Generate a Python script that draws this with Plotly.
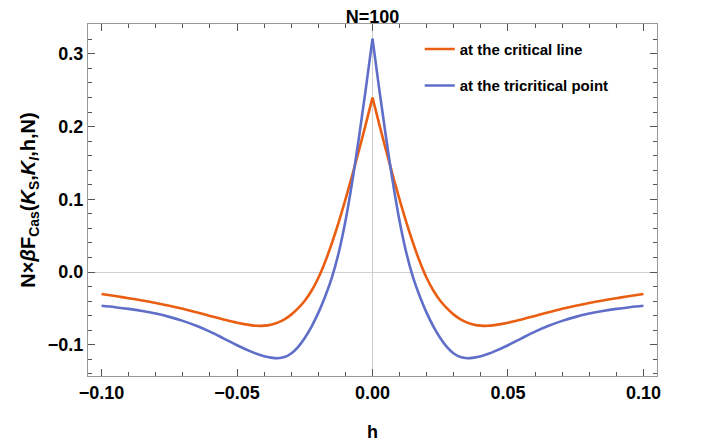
import plotly.graph_objects as go

# ---- data ----
h_left = [-0.100, -0.095, -0.090, -0.085, -0.080, -0.075, -0.070, -0.065, -0.060, -0.055,
          -0.050, -0.045, -0.0425, -0.040, -0.0375, -0.035, -0.0325, -0.030, -0.0275, -0.025,
          -0.0225, -0.020, -0.0175, -0.015, -0.0125, -0.010, -0.0075, -0.005, -0.0025, 0.0]
h_right = [0.0, 0.0025, 0.005, 0.0075, 0.010, 0.0125, 0.015, 0.0175, 0.020, 0.0225,
           0.025, 0.0275, 0.030, 0.0325, 0.035, 0.0375, 0.040, 0.0425, 0.045, 0.050,
           0.055, 0.060, 0.065, 0.070, 0.075, 0.080, 0.085, 0.090, 0.095, 0.100]

# at the critical line
crit_left = [-0.0303, -0.0331, -0.0360, -0.0391, -0.0425, -0.0463, -0.0506, -0.0554, -0.0604, -0.0653,
             -0.0697, -0.0730, -0.0740, -0.0738, -0.0724, -0.0696, -0.0651, -0.0586, -0.0501, -0.0396,
             -0.0258, -0.0083, 0.0137, 0.0395, 0.0682, 0.0995, 0.1325, 0.1673, 0.2030, 0.2400]
crit_right = [0.2400, 0.2030, 0.1673, 0.1325, 0.0995, 0.0682, 0.0395, 0.0137, -0.0083, -0.0258,
              -0.0396, -0.0501, -0.0586, -0.0651, -0.0696, -0.0724, -0.0738, -0.0740, -0.0730, -0.0697,
              -0.0653, -0.0604, -0.0554, -0.0506, -0.0463, -0.0425, -0.0391, -0.0360, -0.0331, -0.0303]

# at the tricritical point
tri_left = [-0.0465, -0.0484, -0.0507, -0.0536, -0.0572, -0.0617, -0.0672, -0.0740, -0.0820, -0.0912,
            -0.1007, -0.1092, -0.1128, -0.1157, -0.1177, -0.1186, -0.1170, -0.1120, -0.1032, -0.0907,
            -0.0750, -0.0562, -0.0340, -0.0077, 0.0261, 0.0698, 0.1236, 0.1849, 0.2511, 0.3210]
tri_right = [0.3210, 0.2511, 0.1849, 0.1236, 0.0698, 0.0261, -0.0077, -0.0340, -0.0562, -0.0750,
             -0.0907, -0.1032, -0.1120, -0.1170, -0.1186, -0.1177, -0.1157, -0.1128, -0.1092, -0.1007,
             -0.0912, -0.0820, -0.0740, -0.0672, -0.0617, -0.0572, -0.0536, -0.0507, -0.0484, -0.0465]

series_names = ["at the critical line", "at the tricritical point"]
x_ticks = [-0.10, -0.05, 0.00, 0.05, 0.10]
x_tick_labels = ["\u22120.10", "\u22120.05", "0.00", "0.05", "0.10"]
y_ticks = [-0.1, 0.0, 0.1, 0.2, 0.3]
y_tick_labels = ["\u22120.1", "0.0", "0.1", "0.2", "0.3"]

ORANGE = "#EA5E12"
BLUE = "#5F6EC8"

fig = go.Figure()
for name, color, halves in [
    (series_names[0], ORANGE, [(h_left, crit_left), (h_right, crit_right)]),
    (series_names[1], BLUE, [(h_left, tri_left), (h_right, tri_right)]),
]:
    for i, (hx, vy) in enumerate(halves):
        fig.add_trace(go.Scatter(
            x=hx, y=vy, mode="lines", name="<b>" + name + "</b>", legendgroup=name,
            showlegend=(i == 0),
            line=dict(color=color, width=2.6, shape="spline", smoothing=1.0),
        ))

font_family = "Liberation Sans, Arial, sans-serif"
axis_common = dict(
    showline=True, linecolor="#9a9a9a", linewidth=1.2, mirror="ticks",
    ticks="inside", ticklen=7, tickwidth=1, tickcolor="#555555",
    showgrid=False, zeroline=True, zerolinecolor="#cfcfcf", zerolinewidth=1,
    tickfont=dict(family=font_family, size=18, color="black"),
    automargin=False,
)

fig.update_xaxes(
    range=[-0.105, 0.105], tickvals=x_ticks,
    ticktext=["<b>" + t + "</b>" for t in x_tick_labels],
    minor=dict(ticks="inside", ticklen=4, dtick=0.01, tick0=0, tickcolor="#555555"),
    title=dict(text="<b>h</b>", font=dict(family=font_family, size=18, color="black"), standoff=23),
    **axis_common,
)
fig.update_yaxes(
    range=[-0.143, 0.341], tickvals=y_ticks,
    ticktext=["<b>" + t + "</b>" for t in y_tick_labels],
    minor=dict(ticks="inside", ticklen=4, dtick=0.02, tick0=0, tickcolor="#555555"),
    title=dict(
        text="<b>N\u00d7<i>\u03b2</i>F<sub>Cas</sub>(<i>K</i><sub>S</sub>,<i>K</i><sub><i>I</i></sub>,h,N)</b>",
        font=dict(family=font_family, size=20, color="black"), standoff=6),
    **axis_common,
)

# page body adds an 8px offset, so the figure is sized to fit the window
fig.update_layout(
    width=697, height=435,
    margin=dict(l=80, r=48, t=16, b=67),
    paper_bgcolor="white", plot_bgcolor="white",
    title=dict(text="<b>N=100</b>", x=0.5, xref="paper", xanchor="center",
               y=0.995, yref="container", yanchor="top", pad=dict(t=0),
               font=dict(family=font_family, size=18, color="black")),
    legend=dict(x=0.583, y=0.975, xanchor="left", yanchor="top",
                bgcolor="rgba(0,0,0,0)", tracegroupgap=14,
                font=dict(family=font_family, size=15, color="black")),
    font=dict(family=font_family),
)

fig.write_html("out.html")
